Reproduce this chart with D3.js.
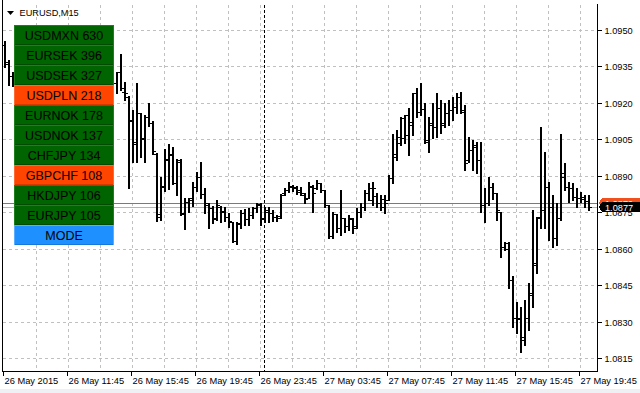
<!DOCTYPE html>
<html lang="en">
<head>
<meta charset="utf-8">
<title>EURUSD,M15</title>
<script src="https://d3js.org/d3.v7.min.js"></script>
<style>
  body { margin: 0; background: #fff; }
  svg { display: block; font-family: "Liberation Sans", Arial, sans-serif; }
</style>
</head>
<body>
<script>
// chart size
const W = 640, H = 393;

// --- data: EURUSD M15 bars, 26 May 07:45 .. 27 May 20:15 ---
const barOpen = [
  1.09437,1.09359,1.09310,1.09290,1.09318,1.09360,1.09352,1.09330,1.09305,1.09335,
  1.09398,1.09425,1.09410,1.09385,1.09402,1.09438,1.09428,1.09392,1.09365,1.09378,
  1.09350,1.09322,1.09345,1.09370,1.09346,1.09312,1.09296,1.09315,1.09281,1.09326,
  1.09244,1.09224,1.09129,1.09030,1.09158,1.09055,1.09141,1.09117,1.08989,1.08731,
  1.08858,1.08965,1.08985,1.08870,1.08956,1.08743,1.08792,1.08800,1.08854,1.08895,
  1.08825,1.08780,1.08767,1.08726,1.08772,1.08755,1.08731,1.08710,1.08632,1.08702,
  1.08747,1.08722,1.08739,1.08767,1.08784,1.08726,1.08759,1.08747,1.08731,1.08735,
  1.08829,1.08841,1.08854,1.08850,1.08841,1.08821,1.08809,1.08854,1.08850,1.08870,
  1.08841,1.08780,1.08652,1.08743,1.08685,1.08726,1.08694,1.08722,1.08694,1.08751,
  1.08772,1.08829,1.08800,1.08817,1.08788,1.08772,1.08800,1.08891,1.08977,1.09035,
  1.09055,1.09067,1.09108,1.09240,1.09162,1.09174,1.09039,1.09108,1.09100,1.09178,
  1.09117,1.09158,1.09170,1.09182,1.09224,1.09170,1.08965,1.09006,1.09018,1.08965,
  1.08780,1.08788,1.08854,1.08829,1.08751,1.08607,1.08624,1.08472,1.08315,1.08315,
  1.08225,1.08315,1.08418,1.08533,1.08731,1.08759,1.08854,1.08772,1.08644,1.08726,
  1.08911,1.08854,1.08850,1.08813,1.08809,1.08804,1.08796
];
const barHigh = [
  1.09454,1.09376,1.09326,1.09330,1.09372,1.09395,1.09380,1.09350,1.09342,1.09410,
  1.09440,1.09462,1.09430,1.09415,1.09450,1.09470,1.09445,1.09420,1.09390,1.09400,
  1.09372,1.09360,1.09382,1.09395,1.09362,1.09335,1.09325,1.09340,1.09326,1.09400,
  1.09285,1.09228,1.09170,1.09281,1.09158,1.09150,1.09199,1.09125,1.08993,1.08895,
  1.09010,1.09030,1.09018,1.08969,1.08969,1.08809,1.08809,1.08874,1.08915,1.08956,
  1.08850,1.08788,1.08776,1.08800,1.08776,1.08772,1.08747,1.08710,1.08710,1.08759,
  1.08763,1.08767,1.08772,1.08788,1.08788,1.08772,1.08772,1.08759,1.08739,1.08825,
  1.08850,1.08874,1.08862,1.08858,1.08854,1.08829,1.08874,1.08862,1.08883,1.08870,
  1.08841,1.08780,1.08751,1.08743,1.08841,1.08726,1.08739,1.08726,1.08767,1.08788,
  1.08841,1.08870,1.08874,1.08829,1.08821,1.08821,1.08903,1.09072,1.09088,1.09141,
  1.09150,1.09178,1.09240,1.09260,1.09281,1.09199,1.09141,1.09199,1.09240,1.09211,
  1.09199,1.09211,1.09224,1.09240,1.09244,1.09191,1.09059,1.09047,1.09039,1.09039,
  1.08850,1.08895,1.08870,1.08829,1.08751,1.08628,1.08628,1.08488,1.08381,1.08361,
  1.08389,1.08459,1.08759,1.08731,1.09100,1.08998,1.08874,1.08821,1.08788,1.09072,
  1.08952,1.08874,1.08870,1.08850,1.08833,1.08821,1.08821
];
const barLow = [
  1.09347,1.09273,1.09269,1.09262,1.09305,1.09340,1.09318,1.09290,1.09285,1.09326,
  1.09380,1.09402,1.09372,1.09360,1.09390,1.09415,1.09380,1.09350,1.09330,1.09342,
  1.09310,1.09300,1.09332,1.09338,1.09300,1.09280,1.09270,1.09268,1.09240,1.09252,
  1.09211,1.08850,1.08956,1.08956,1.08977,1.08956,1.09104,1.08989,1.08714,1.08718,
  1.08837,1.08846,1.08866,1.08821,1.08739,1.08681,1.08751,1.08776,1.08837,1.08809,
  1.08747,1.08685,1.08706,1.08718,1.08710,1.08714,1.08689,1.08628,1.08620,1.08685,
  1.08698,1.08698,1.08726,1.08751,1.08698,1.08710,1.08710,1.08714,1.08714,1.08726,
  1.08821,1.08833,1.08837,1.08825,1.08821,1.08788,1.08809,1.08751,1.08846,1.08833,
  1.08772,1.08644,1.08644,1.08669,1.08657,1.08669,1.08677,1.08665,1.08685,1.08731,
  1.08759,1.08800,1.08780,1.08772,1.08759,1.08747,1.08800,1.08870,1.08965,1.09026,
  1.09035,1.08985,1.09067,1.09141,1.09150,1.09035,1.08998,1.09055,1.09059,1.09076,
  1.09100,1.09108,1.09129,1.09158,1.09158,1.08924,1.08956,1.08924,1.08911,1.08751,
  1.08710,1.08780,1.08804,1.08718,1.08566,1.08595,1.08439,1.08279,1.08254,1.08176,
  1.08205,1.08266,1.08361,1.08500,1.08685,1.08685,1.08636,1.08607,1.08615,1.08718,
  1.08841,1.08792,1.08800,1.08772,1.08792,1.08772,1.08759
];
const barClose = [
  1.09367,1.09310,1.09293,1.09318,1.09360,1.09352,1.09330,1.09305,1.09335,1.09398,
  1.09425,1.09410,1.09385,1.09402,1.09438,1.09428,1.09392,1.09365,1.09378,1.09350,
  1.09322,1.09345,1.09370,1.09346,1.09312,1.09296,1.09315,1.09281,1.09326,1.09260,
  1.09240,1.09125,1.09039,1.09158,1.09051,1.09141,1.09117,1.09002,1.08743,1.08854,
  1.08969,1.08989,1.08870,1.08965,1.08747,1.08792,1.08809,1.08854,1.08895,1.08825,
  1.08788,1.08767,1.08722,1.08780,1.08751,1.08731,1.08714,1.08632,1.08706,1.08747,
  1.08722,1.08739,1.08767,1.08780,1.08722,1.08751,1.08747,1.08731,1.08726,1.08821,
  1.08841,1.08858,1.08854,1.08833,1.08829,1.08804,1.08858,1.08829,1.08870,1.08841,
  1.08780,1.08652,1.08743,1.08685,1.08726,1.08694,1.08726,1.08685,1.08751,1.08772,
  1.08829,1.08850,1.08850,1.08788,1.08804,1.08788,1.08891,1.08989,1.09059,1.09137,
  1.09150,1.09121,1.09240,1.09162,1.09174,1.09047,1.09117,1.09100,1.09178,1.09108,
  1.09158,1.09170,1.09182,1.09224,1.09162,1.08952,1.09006,1.09026,1.08965,1.08780,
  1.08788,1.08854,1.08829,1.08759,1.08607,1.08599,1.08472,1.08315,1.08311,1.08237,
  1.08315,1.08410,1.08541,1.08726,1.08759,1.08854,1.08772,1.08644,1.08726,1.08895,
  1.08854,1.08850,1.08813,1.08809,1.08813,1.08796,1.08772
];

const bidPrice = 1.08772;
const askPrice = 1.08788;

// price axis ticks
const priceTicks = [1.0815, 1.0830, 1.0845, 1.0860, 1.0875, 1.0890, 1.0905, 1.0920, 1.0935, 1.0950];

// time axis: label every 16 bars, grid every 8 bars
const timeTickBars = [0, 16, 32, 48, 64, 80, 96, 112, 128, 144];
const timeTickLabels = ["26 May 2015", "26 May 11:45", "26 May 15:45", "26 May 19:45", "26 May 23:45",
                        "27 May 03:45", "27 May 07:45", "27 May 11:45", "27 May 15:45", "27 May 19:45"];
const gridBars = [8, 16, 24, 32, 40, 48, 56, 64, 72, 80, 88, 96, 104, 112, 120, 128, 136, 144];
const daySeparatorBar = 65; // 27 May 00:00

// button panel
const pairNames = ["USDMXN", "EURSEK", "USDSEK", "USDPLN", "EURNOK", "USDNOK", "CHFJPY", "GBPCHF", "HKDJPY", "EURJPY"];
const pairCounts = [630, 396, 327, 218, 178, 137, 134, 108, 106, 105];
const pairOn = [false, false, false, true, false, false, false, true, false, false];

// --- scales ---
const plotLeft = 2, plotRight = 597, plotTop = 4, plotBottom = 371;

const x = d3.scaleLinear()
    .domain([0, barOpen.length - 1])
    .range([4, 588]);

const y = d3.scaleLinear()
    .domain([1.0815, 1.0950])
    .range([358.3, 29.7]);

const px = v => Math.round(x(v)) + 0.5;
const py = v => Math.round(y(v)) + 0.5;

const svg = d3.select("body")
    .append("svg")
    .attr("width", W)
    .attr("height", H)
    .attr("shape-rendering", "crispEdges");

svg.append("rect").attr("width", W).attr("height", H).attr("fill", "#fff");
// status strip at bottom
svg.append("rect").attr("x", 0).attr("y", 389).attr("width", W).attr("height", 4).attr("fill", "#eef0f4");

// grid
const grid = svg.append("g")
    .attr("stroke", "#c0c0c0")
    .attr("stroke-dasharray", "3,3");

grid.selectAll("line.h")
    .data(priceTicks)
    .enter()
    .append("line")
    .attr("x1", plotLeft + 1)
    .attr("x2", plotRight)
    .attr("y1", d => py(d))
    .attr("y2", d => py(d));

grid.selectAll("line.v")
    .data(gridBars)
    .enter()
    .append("line")
    .attr("x1", d => px(d))
    .attr("x2", d => px(d))
    .attr("y1", plotTop + 1)
    .attr("y2", plotBottom);

// day separator (27 May 00:00)
svg.append("line")
    .attr("x1", px(daySeparatorBar))
    .attr("x2", px(daySeparatorBar))
    .attr("y1", plotTop + 1)
    .attr("y2", plotBottom)
    .attr("stroke", "#000")
    .attr("stroke-dasharray", "3,2");

// bid / ask lines
svg.append("line")
    .attr("x1", plotLeft + 1).attr("x2", plotRight)
    .attr("y1", py(askPrice)).attr("y2", py(askPrice))
    .attr("stroke", "#f0501e");
svg.append("line")
    .attr("x1", plotLeft + 1).attr("x2", plotRight)
    .attr("y1", py(bidPrice)).attr("y2", py(bidPrice))
    .attr("stroke", "#b4b4b4");

// OHLC bars: 2px stem, 2px open tick left, 2px close tick right
svg.append("g")
    .selectAll("path")
    .data(d3.range(barOpen.length))
    .enter()
    .append("path")
    .attr("d", i => {
        const cx = Math.round(x(i));
        const yh = Math.round(y(barHigh[i])), yl = Math.round(y(barLow[i]));
        const yo = py(barOpen[i]), yc = py(barClose[i]);
        return `M${cx},${yh}h2V${yl + 1}h-2Z` +
               `M${cx - 2},${yo - 0.5}h2v1h-2Z` +
               `M${cx + 2},${yc - 0.5}h2v1h-2Z`;
    })
    .attr("fill", "#000");

// frame
svg.append("line").attr("x1", plotLeft + 0.5).attr("x2", plotLeft + 0.5).attr("y1", 0).attr("y2", plotBottom + 0.5).attr("stroke", "#000");
svg.append("line").attr("x1", plotRight + 0.5).attr("x2", plotRight + 0.5).attr("y1", plotTop).attr("y2", plotBottom + 0.5).attr("stroke", "#000");
svg.append("line").attr("x1", plotLeft).attr("x2", plotRight + 1).attr("y1", plotBottom + 0.5).attr("y2", plotBottom + 0.5).attr("stroke", "#000");

// right price axis
const rightAxis = d3.axisRight(y)
    .tickValues(priceTicks)
    .tickFormat(d3.format(".4f"))
    .tickSize(4)
    .tickPadding(3);

const ra = svg.append("g")
    .attr("transform", `translate(${plotRight + 0.5},0)`)
    .call(rightAxis);
ra.select(".domain").remove();
ra.selectAll(".tick").attr("transform", d => `translate(0,${py(d)})`);
ra.selectAll("text")
    .attr("font-family", "'Liberation Sans', Arial, sans-serif")
    .attr("font-size", "9.2px")
    .attr("fill", "#000")
    .attr("dy", "0.36em");

// bottom time axis
const bottomAxis = d3.axisBottom(x)
    .tickValues(timeTickBars)
    .tickFormat((d, i) => timeTickLabels[i])
    .tickSize(4);

const ba = svg.append("g")
    .attr("transform", `translate(0,${plotBottom + 0.5})`)
    .call(bottomAxis);
ba.select(".domain").remove();
ba.selectAll(".tick").attr("transform", d => `translate(${px(d) - 1},0)`);
ba.selectAll("text")
    .attr("text-anchor", "start")
    .attr("x", 1)
    .attr("y", 12.5)
    .attr("dy", null)
    .attr("font-family", "'Liberation Sans', Arial, sans-serif")
    .attr("font-size", "9.3px")
    .attr("fill", "#000");

// price labels (ask behind, bid in front)
function priceLabel(price, fill) {
    const g = svg.append("g").attr("transform", `translate(599,${Math.round(y(price)) - 5})`);
    g.append("path")
        .attr("d", "M0,5L3,0H41V10H3Z")
        .attr("fill", fill);
    g.append("text")
        .attr("x", 6)
        .attr("y", 8.5)
        .attr("font-size", "9.2px")
        .attr("fill", "#fff")
        .text(price.toFixed(4));
}
priceLabel(askPrice, "#f0501e");
priceLabel(bidPrice, "#000");

// title
svg.append("path").attr("d", "M7,11H14L10.5,15Z").attr("fill", "#000").attr("shape-rendering", "auto");
svg.append("text")
    .attr("x", 19.5)
    .attr("y", 15.5)
    .attr("font-size", "9.2px")
    .attr("fill", "#000")
    .text("EURUSD,M15");

// button panel
const btnX = 14, btnY = 25, btnW = 100, btnH = 20;
const buttons = pairNames.map((n, i) => ({ label: `${n} ${pairCounts[i]}`, on: pairOn[i], mode: false }))
    .concat([{ label: "MODE", on: false, mode: true }]);

const btn = svg.append("g")
    .selectAll("g")
    .data(buttons)
    .enter()
    .append("g")
    .attr("transform", (d, i) => `translate(${btnX},${btnY + i * btnH})`);

btn.append("rect")
    .attr("width", btnW)
    .attr("height", btnH)
    .attr("fill", d => d.mode ? "#1e90ff" : d.on ? "#ff4500" : "#006400");
btn.append("rect")
    .attr("x", 0.5).attr("y", 0.5)
    .attr("width", btnW - 1).attr("height", btnH - 1)
    .attr("fill", "none")
    .attr("stroke", d => d.mode ? "#5aaeff" : d.on ? "#ff6a33" : "#1f7f1f");
btn.append("line")
    .attr("x1", 1).attr("x2", btnW - 1)
    .attr("y1", btnH - 0.5).attr("y2", btnH - 0.5)
    .attr("stroke", d => d.mode ? "#1478dc" : d.on ? "#d23a00" : "#004b00");
btn.append("text")
    .attr("x", btnW / 2)
    .attr("y", 15)
    .attr("text-anchor", "middle")
    .attr("font-size", "12.5px")
    .attr("fill", "#000")
    .text(d => d.label);
</script>
</body>
</html>
